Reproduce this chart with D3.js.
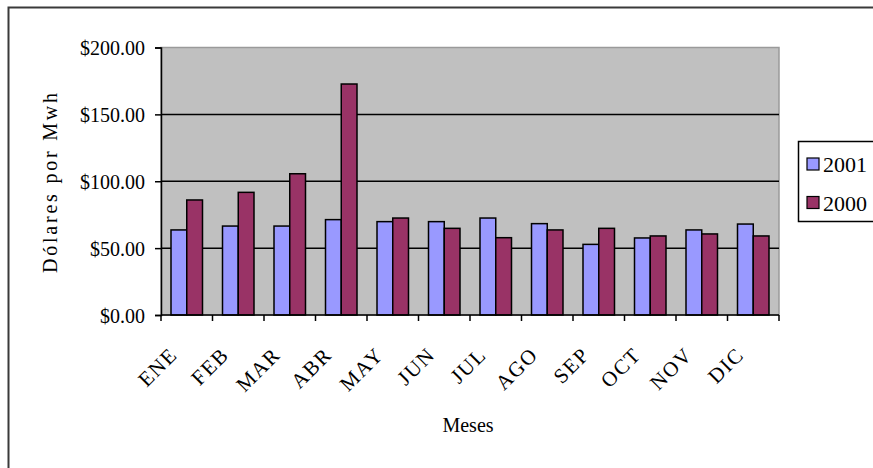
<!DOCTYPE html>
<html><head><meta charset="utf-8">
<script src="https://cdn.jsdelivr.net/npm/d3@7"></script>
<style>
html,body{margin:0;padding:0;background:#fff;}
svg{display:block;}
svg text{font-family:"Liberation Serif","Times New Roman","DejaVu Serif",serif;}
</style></head>
<body><svg id="c" width="873" height="468"></svg>
<script>
const months = ["ENE","FEB","MAR","ABR","MAY","JUN","JUL","AGO","SEP","OCT","NOV","DIC"];
const series = ["2001","2000"];
const values2001 = [63.6,66.5,66.5,71.3,69.8,69.8,72.5,68.3,52.8,57.6,63.6,68.0];
const values2000 = [86.0,91.7,105.6,172.7,72.5,64.8,57.8,63.6,64.8,59.1,60.6,59.1];
const yTicks = [0,50,100,150,200];
const colors = ["#9999FF","#993366"];
const FONT = "Liberation Serif, Times New Roman, serif";

const svg = d3.select("#c");
svg.append("rect").attr("x",0).attr("y",0).attr("width",873).attr("height",468).attr("fill","#fff");
// outer chart border (cropped at right/bottom)
svg.append("rect").attr("x",8.5).attr("y",7.5).attr("width",900).attr("height",500)
  .attr("fill","none").attr("stroke","#3a3a3a").attr("stroke-width",2);

const L=161, R=779, T=47.5, B=315;
const y = d3.scaleLinear().domain([0,200]).range([B,T]);
const x0 = d3.scaleBand().domain(months).range([L,R]).padding(0);
const groupW = 31.5;
const x1 = d3.scaleBand().domain(series).range([0,groupW]).padding(0);

// plot area
svg.append("rect").attr("x",L).attr("y",T).attr("width",R-L).attr("height",B-T)
  .attr("fill","#C0C0C0").attr("stroke","#9a9a9a").attr("stroke-width",1.5);

// gridlines
svg.append("g").selectAll("line").data(yTicks.filter(d=>d>0 && d<200)).join("line")
  .attr("x1",L).attr("x2",R).attr("y1",d=>y(d)).attr("y2",d=>y(d))
  .attr("stroke","#000").attr("stroke-width",1.5);

// bars
const data = months.map((m,i)=>({m, vals:[values2001[i],values2000[i]]}));
const g = svg.append("g");
data.forEach(d=>{
  const off = x0(d.m) + (x0.bandwidth()-groupW)/2;
  series.forEach((s,j)=>{
    g.append("rect")
      .attr("x",off + x1(s)).attr("y",y(d.vals[j]))
      .attr("width",x1.bandwidth()).attr("height",B - y(d.vals[j]))
      .attr("fill",colors[j]).attr("stroke","#000").attr("stroke-width",1.5);
  });
});

// y axis
const yAxis = d3.axisLeft(y).tickValues(yTicks).tickSize(6).tickPadding(10).tickFormat(d3.format("$.2f"));
const ya = svg.append("g").attr("transform",`translate(${L},0)`).call(yAxis).attr("font-family",FONT);
ya.select(".domain").attr("stroke","#000").attr("stroke-width",1.5);
ya.selectAll(".tick line").attr("stroke","#000").attr("stroke-width",1.5);
ya.selectAll(".tick text").attr("font-size",20).attr("font-family",FONT).attr("fill","#000").attr("dy","0.35em");

// x axis: ticks at category boundaries
const xa = svg.append("g");
xa.append("line").attr("x1",L).attr("x2",R).attr("y1",B).attr("y2",B).attr("stroke","#000").attr("stroke-width",1.5);
const bounds = months.map(m=>x0(m)).concat([R]);
xa.selectAll("line.t").data(bounds).join("line").attr("class","t")
  .attr("x1",d=>d).attr("x2",d=>d).attr("y1",B).attr("y2",B+6)
  .attr("stroke","#000").attr("stroke-width",1.5);
xa.selectAll("text").data(months).join("text")
  .attr("transform",d=>`translate(${x0(d)+x0.bandwidth()/2-8},356) rotate(-45)`)
  .attr("text-anchor","end").attr("font-size",21).attr("letter-spacing",1.5)
  .attr("font-family",FONT).attr("fill","#000").text(d=>d);

// axis titles
svg.append("text").attr("x",(L+R)/2-2).attr("y",432).attr("text-anchor","middle")
  .attr("font-size",20).attr("font-family",FONT).attr("fill","#000").text("Meses");
svg.append("text").attr("transform","translate(57,183) rotate(-90)").attr("text-anchor","middle")
  .attr("font-size",20).attr("font-family",FONT).attr("fill","#000").attr("textLength",180).attr("lengthAdjust","spacing")
  .text("Dólares por Mwh");

// legend
const lg = svg.append("g");
lg.append("rect").attr("x",798.5).attr("y",141.5).attr("width",90).attr("height",80)
  .attr("fill","#fff").attr("stroke","#000").attr("stroke-width",1.5);
series.forEach((s,j)=>{
  lg.append("rect").attr("x",807).attr("y",158+j*38.5).attr("width",12).attr("height",12)
    .attr("fill",colors[j]).attr("stroke","#000").attr("stroke-width",1.2);
  lg.append("text").attr("x",823).attr("y",172+j*38.5).attr("font-size",22)
    .attr("font-family",FONT).attr("fill","#000").text(s);
});
</script></body></html>
